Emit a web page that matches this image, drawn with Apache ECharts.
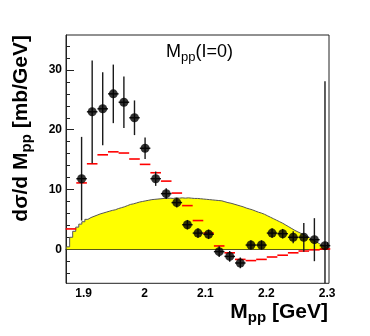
<!DOCTYPE html>
<html><head><meta charset="utf-8">
<script src="https://cdn.jsdelivr.net/npm/echarts@6/dist/echarts.min.js"></script>
<style>html,body{margin:0;padding:0;background:#fff}#c{width:370px;height:336px}</style>
</head><body><div id="c"></div>
<script>
// ---- data ----
const dataX = [1.8966, 1.9140, 1.9313, 1.9487, 1.9661, 1.9835, 2.0009, 2.0183, 2.0356, 2.0530, 2.0704, 2.0878,
               2.1052, 2.1226, 2.1399, 2.1573, 2.1747, 2.1921, 2.2095, 2.2269, 2.2442, 2.2616, 2.2790, 2.2964];
const dataY = [11.8, 23.0, 23.5, 26.0, 24.6, 22.0, 16.9, 11.8, 9.3, 7.8, 4.1, 2.7,
               2.5, -0.4, -1.2, -2.3, 0.7, 0.7, 2.7, 2.6, 2.0, 2.0, 1.6, 0.6];
const dataErr = [7.0, 8.6, 6.1, 4.9, 4.3, 2.9, 1.8, 1.2, 0.9, 0.8, 0.8, 0.8,
                 0.8, 0.9, 0.9, 0.9, 0.8, 0.8, 0.8, 0.8, 1.0, 2.4, 3.6, 27.5];
const modelX = [1.8792, 1.8966, 1.9140, 1.9313, 1.9487, 1.9661, 1.9835, 2.0009, 2.0183, 2.0356, 2.0530, 2.0704,
                2.0878, 2.1052, 2.1226, 2.1399, 2.1573, 2.1747, 2.1921, 2.2095, 2.2269, 2.2442, 2.2616, 2.2790, 2.2964];
const modelY = [3.4, 11.1, 14.3, 15.8, 16.3, 16.1, 15.1, 14.2, 12.8, 11.4, 9.4, 7.3,
                4.8, 2.7, 0.55, -0.6, -1.7, -1.9, -1.7, -1.3, -1.0, -0.6, -0.3, -0.1, 0.05];
const yellowLowEdge = 1.872;
const yellowBinWidth = 0.005;
const yellowY = [0.4, 2.0, 3.0, 3.7, 4.2, 4.6, 5.0, 5.3, 5.5, 5.7,
  5.9, 6.05, 6.2, 6.35, 6.5, 6.6, 6.8, 6.95, 7.1, 7.3,
  7.5, 7.6, 7.75, 7.9, 8.0, 8.1, 8.2, 8.3, 8.35, 8.4,
  8.45, 8.5, 8.5, 8.55, 8.5, 8.6, 8.55, 8.6, 8.55, 8.6,
  8.55, 8.5, 8.5, 8.45, 8.4, 8.35, 8.3, 8.25, 8.2, 8.15,
  8.1, 7.95, 7.8, 7.7, 7.55, 7.4, 7.25, 7.1, 6.9, 6.75,
  6.6, 6.4, 6.2, 6.05, 5.85, 5.6, 5.35, 5.1, 4.85, 4.6,
  4.35, 4.05, 3.75, 3.45, 3.15, 2.9, 2.65, 2.4, 2.1, 1.85,
  1.55, 1.25, 0.95, 0.65, 0.4, 0.15];
const xMajorTicks = [1.9, 2.0, 2.1, 2.2, 2.3];
const xMinorTicks = [1.88, 1.92, 1.94, 1.96, 1.98, 2.02, 2.04, 2.06, 2.08, 2.12, 2.14, 2.16, 2.18, 2.22, 2.24, 2.26, 2.28];
const yMajorTicks = [0, 10, 20, 30];
const yMinorTicks = [-4, -2, 2, 4, 6, 8, 12, 14, 16, 18, 22, 24, 26, 28, 32, 34];
const titleText = 'M{s|pp}(I=0)';
const xTitle = 'M{s|pp} [GeV]';
const yTitle = 'dσ/d M{s|pp} [mb/GeV]';

// ---- chart ----
const X_MIN = 1.871, X_MAX = 2.303, Y_MIN = -5.7, Y_MAX = 35.85;
const HALF_BIN = 0.0087;
const FONT = 'Liberation Sans';
const AX = '#222';

const yellowData = yellowY.map((v, i) => [yellowLowEdge + i * yellowBinWidth, v]);
yellowData.push([yellowLowEdge + yellowY.length * yellowBinWidth, 0]);

function valAxis(min, max, pos, ticks, len, labels) {
  return {
    type: 'value', min: min, max: max, position: pos, gridIndex: 0,
    axisLine: {show: labels, lineStyle: {color: AX, width: 1}},
    axisTick: {show: true, inside: true, length: len, customValues: ticks, lineStyle: {color: AX, width: 1}},
    axisLabel: labels ? {show: true, customValues: ticks, margin: 4, fontSize: 12, fontWeight: 'bold',
                fontFamily: FONT, color: '#000'} : {show: false},
    splitLine: {show: false}, minorTick: {show: false}
  };
}

const chart = echarts.init(document.getElementById('c'), null, {renderer: 'canvas'});
chart.setOption({
  animation: false,
  backgroundColor: '#fff',
  grid: {left: 66, top: 35, right: 41, bottom: 52.7, show: true, borderColor: AX, borderWidth: 1,
         backgroundColor: 'transparent'},
  xAxis: [valAxis(X_MIN, X_MAX, 'bottom', xMajorTicks, 7, true),
          valAxis(X_MIN, X_MAX, 'bottom', xMinorTicks, 4, false)],
  yAxis: [valAxis(Y_MIN, Y_MAX, 'left', yMajorTicks, 8, true),
          valAxis(Y_MIN, Y_MAX, 'left', yMinorTicks, 4, false)],
  series: [
    {
      type: 'line', xAxisIndex: 0, yAxisIndex: 0, data: yellowData, step: 'end',
      showSymbol: false, symbol: 'none', z: 2,
      lineStyle: {color: '#555', width: 1},
      areaStyle: {color: '#ffff00', opacity: 1},
      silent: true
    },
    {
      type: 'custom', xAxisIndex: 0, yAxisIndex: 0, z: 3,
      data: modelX.map((x, i) => [x, modelY[i]]),
      encode: {x: 0, y: 1},
      renderItem: function (params, api) {
        const x = api.value(0), y = api.value(1);
        const a = api.coord([x - HALF_BIN, y]), b = api.coord([x + HALF_BIN, y]);
        return {type: 'line', shape: {x1: a[0], y1: a[1], x2: b[0], y2: b[1]},
                style: {stroke: '#ff0000', lineWidth: 1.6}};
      }
    },
    {
      type: 'custom', xAxisIndex: 0, yAxisIndex: 0, z: 4,
      data: dataX.map((x, i) => [x, dataY[i], dataErr[i]]),
      encode: {x: 0, y: 1},
      renderItem: function (params, api) {
        const x = api.value(0), y = api.value(1), e = api.value(2);
        const t = api.coord([x, Math.min(y + e, Y_MAX)]);
        const bt = api.coord([x, Math.max(y - e, Y_MIN)]);
        const l = api.coord([x - HALF_BIN, y]), r = api.coord([x + HALF_BIN, y]);
        const st = {stroke: '#1a1a1a', lineWidth: 1.4};
        return {type: 'group', children: [
          {type: 'line', shape: {x1: t[0], y1: t[1], x2: bt[0], y2: bt[1]}, style: st},
          {type: 'line', shape: {x1: l[0], y1: l[1], x2: r[0], y2: r[1]}, style: st}
        ]};
      }
    },
    {
      type: 'scatter', xAxisIndex: 0, yAxisIndex: 0, z: 5,
      data: dataX.map((x, i) => [x, dataY[i]]),
      symbol: 'circle', symbolSize: 9,
      itemStyle: {color: '#000'}
    }
  ],
  graphic: [
    {type: 'text', x: 166, y: 52, z: 10,
     style: {text: titleText, fontSize: 18, fontFamily: FONT, fill: '#000',
             align: 'left', textAlign: 'left', verticalAlign: 'middle', textVerticalAlign: 'middle',
             rich: {s: {fontSize: 13, fontFamily: FONT, verticalAlign: 'bottom', padding: [10, 0, 0, 0]}}}},
    {type: 'text', x: 328, y: 312, z: 10,
     style: {text: xTitle, fontSize: 21, fontWeight: 'bold', fontFamily: FONT, fill: '#000',
             align: 'right', textAlign: 'right', verticalAlign: 'middle', textVerticalAlign: 'middle',
             rich: {s: {fontSize: 15, fontWeight: 'bold', fontFamily: FONT, verticalAlign: 'bottom', padding: [12, 0, 0, 0]}}}},
    {type: 'text', x: 21, y: 35, z: 10, rotation: Math.PI / 2,
     style: {text: yTitle, fontSize: 21, fontWeight: 'bold', fontFamily: FONT, fill: '#000',
             align: 'right', textAlign: 'right', verticalAlign: 'middle', textVerticalAlign: 'middle',
             rich: {s: {fontSize: 15, fontWeight: 'bold', fontFamily: FONT, verticalAlign: 'bottom', padding: [12, 0, 0, 0]}}}}
  ]
});
</script>
</body></html>
